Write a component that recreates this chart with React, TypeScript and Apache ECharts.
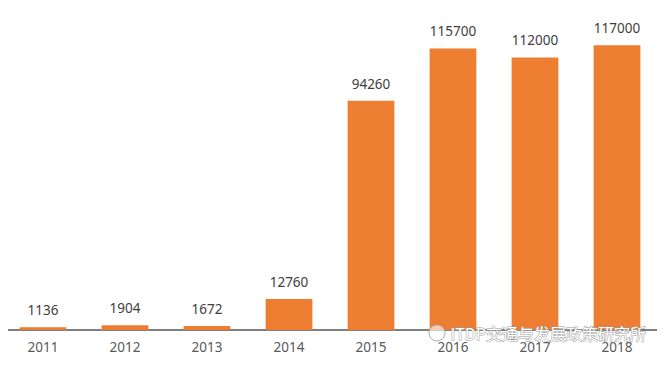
import React, { useEffect, useRef } from "react";
import * as echarts from "echarts";

const categories = ["2011", "2012", "2013", "2014", "2015", "2016", "2017", "2018"];
const values = [1136, 1904, 1672, 12760, 94260, 115700, 112000, 117000];
const watermark = "ITDP交通与发展政策研究所";

export default function App() {
  const ref = useRef<HTMLDivElement>(null);
  useEffect(() => {
    if (!ref.current) return;
    const chart = echarts.init(ref.current, undefined, { renderer: "svg" });
    chart.setOption({
      animation: false,
      backgroundColor: "#ffffff",
      grid: { left: 2, right: 7, top: 38, bottom: 35, containLabel: false },
      xAxis: {
        type: "category",
        data: categories,
        axisLine: { lineStyle: { color: "#555555", width: 1.5 } },
        axisTick: { show: false },
        axisLabel: {
          color: "#595959",
          fontSize: 13.5,
          fontFamily: "Noto Sans",
          margin: 10,
        },
      },
      yAxis: {
        type: "value",
        min: 0,
        max: 120000,
        show: false,
        splitLine: { show: false },
      },
      series: [
        {
          type: "bar",
          data: values,
          barWidth: "57%",
          itemStyle: { color: "#ED7D31" },
          label: {
            show: true,
            position: "top",
            distance: 10,
            color: "#404040",
            fontSize: 13.5,
            fontFamily: "Noto Sans",
          },
        },
      ],
      graphic: [
        {
          type: "circle",
          shape: { cx: 437, cy: 333, r: 8 },
          style: { fill: "rgba(255,255,255,0.6)", stroke: "#aaaaaa", lineWidth: 1 },
          z: 100,
        },
        {
          type: "text",
          left: 450,
          top: 324,
          style: {
            text: watermark,
            fontSize: 16,
            fontFamily: "Noto Sans CJK SC",
            fill: "#ffffff",
            stroke: "#9a9a9a",
            lineWidth: 1,
          },
          z: 100,
        },
      ],
    });
    return () => chart.dispose();
  }, []);
  return <div ref={ref} style={{ width: 665, height: 365, margin: -8 }} />;
}
